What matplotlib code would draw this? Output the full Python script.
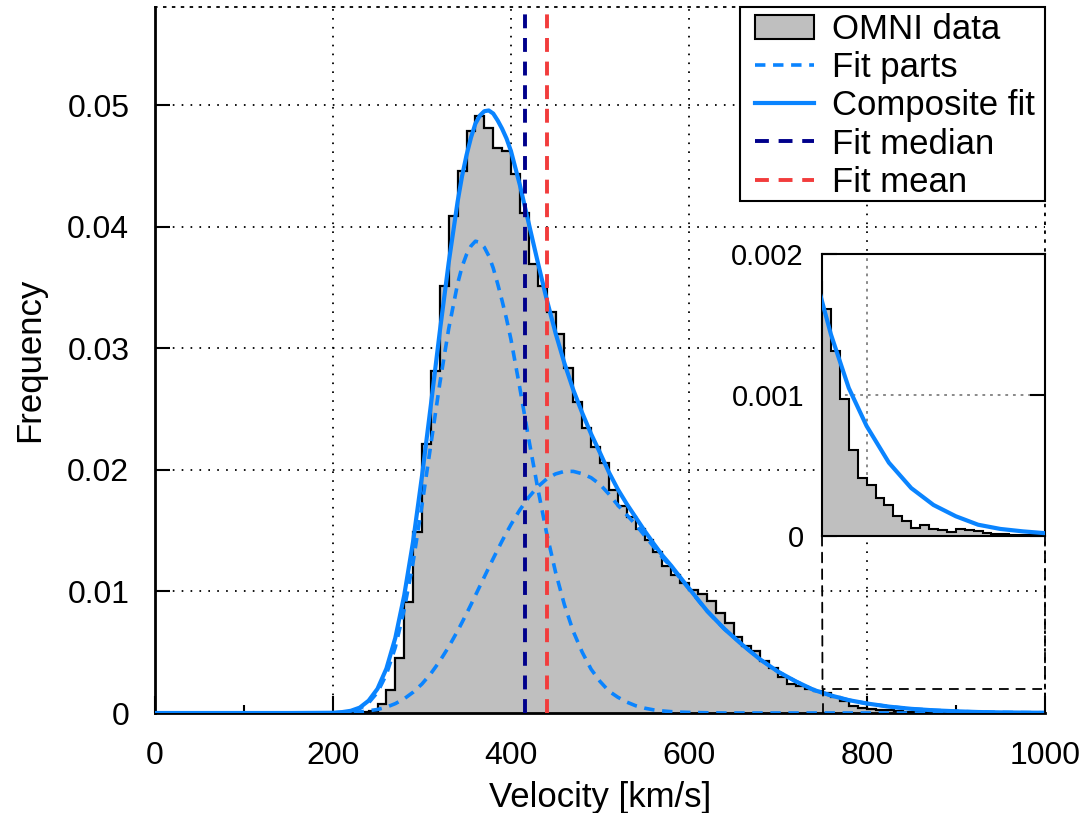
import numpy as np
import matplotlib
matplotlib.use('Agg')
import matplotlib.pyplot as plt
from matplotlib.patches import Patch, ConnectionPatch, Rectangle
from matplotlib.lines import Line2D
from matplotlib.transforms import IdentityTransform

plt.rcParams['font.family'] = ['Liberation Sans', 'DejaVu Sans']
plt.rcParams['lines.scale_dashes'] = False

# ---------------- data ----------------
bin_edges = np.arange(0, 1010, 10)
hist_vals = [0]*23 + [
    0.00005, 0.0002, 0.00074, 0.0019, 0.00455, 0.0091, 0.0149,          # 230-290
    0.0221, 0.0281, 0.0351, 0.0409, 0.0446, 0.0479, 0.0491, 0.0481,      # 300-370
    0.0465, 0.0462, 0.0443, 0.0411, 0.0369, 0.0351, 0.0330, 0.0312,      # 380-450
    0.0284, 0.0256, 0.0234, 0.0219, 0.0206, 0.0183, 0.0170, 0.0161,      # 460-530
    0.0151, 0.0142, 0.0132, 0.0121, 0.01135, 0.0107, 0.0101, 0.0098,     # 540-610
    0.0092, 0.00825, 0.00743, 0.00628, 0.00551, 0.00513, 0.0043, 0.00367,  # 620-690
    0.0030, 0.0024, 0.0022, 0.0020, 0.0018, 0.00161, 0.00131, 0.00097,   # 700-770
    0.00061, 0.00041, 0.00036, 0.00027, 0.00022, 0.00014, 0.000105, 0.00006,  # 780-850
    0.00008, 0.000048, 0.000043, 0.000031, 0.000048, 0.00004, 0.000036, 0.000019,  # 860-930
    0.000017, 0.000014, 0.000005, 0.00001, 0.00001, 0.000005]           # 940-990

fit_v = [0, 100, 150,
         200, 210, 220, 230, 240, 250, 260, 270, 280, 290,
         300, 310, 320, 330, 340, 345, 350, 355, 360, 365, 370, 375, 380, 385, 390, 395,
         400, 410, 420, 430, 440, 450, 460, 470, 480, 490,
         500, 510, 520, 530, 540, 550, 560, 570, 580, 590,
         600, 620, 640, 660, 680, 700, 720, 740, 760, 780,
         800, 825, 850, 875, 900, 925, 950, 975, 1000]
fit_part1 = [0, 0, 0,
             0.00001, 0.00005, 0.00014, 0.00036, 0.00083, 0.0017, 0.00317, 0.0054, 0.0085, 0.0124,
             0.0171, 0.0221, 0.0271, 0.0316, 0.0353, 0.0367, 0.0377, 0.0384, 0.0388, 0.0387,
             0.0383, 0.0376, 0.0366, 0.0353, 0.0339, 0.0324,
             0.0307, 0.0267, 0.0225, 0.0185, 0.0148, 0.0116, 0.0089, 0.0067, 0.0050, 0.0036,
             0.0026, 0.0018, 0.0013, 0.0009, 0.0006, 0.0004, 0.00026, 0.00017, 0.00011, 0.00007,
             0.00005, 0.00002, 0, 0, 0, 0, 0, 0, 0, 0,
             0, 0, 0, 0, 0, 0, 0, 0, 0]
fit_part2 = [0, 0, 0,
             0.00001, 0.00002, 0.00004, 0.00008, 0.00018, 0.00029, 0.00048, 0.00077, 0.00117, 0.00171,
             0.00239, 0.00325, 0.00427, 0.00544, 0.00675, 0.00745, 0.00817, 0.00891, 0.00967, 0.01043,
             0.01119, 0.01195, 0.0127, 0.01343, 0.01415, 0.01484,
             0.0155, 0.01671, 0.01775, 0.0186, 0.01924, 0.01966, 0.01987, 0.01987, 0.01968, 0.01935,
             0.0188, 0.0180, 0.0171, 0.0163, 0.0155, 0.0146, 0.0137, 0.0128, 0.0120, 0.0111,
             0.0102, 0.0084, 0.0069, 0.0056, 0.0044, 0.0034, 0.0026, 0.0019, 0.00143, 0.00105,
             0.00078, 0.00052, 0.00034, 0.00022, 0.00014, 0.00008, 0.00005, 0.000033, 0.00002]
fit_median = 415.5
fit_mean = 440.5

zoom_box = (750, 1000, 0.0, 0.002)

# ---------------- style ----------------
GRAY = '#bfbfbf'
BLUE = '#0a84ff'
NAVY = '#00008b'
RED = '#f23c3c'
FS_TICK = 23
FS_LAB = 25
FS_LEG = 25
FS_IN = 21
dotted = (0, (1.2, 5.2))

fig = plt.figure(figsize=(10.9, 8.13), dpi=100)
W, H = 1090, 813
ax = fig.add_axes([155 / W, (H - 713) / H, 890 / W, 706 / H])

ax.set_xlim(0, 1000)
ax.set_ylim(0, 0.05806)

ax.stairs(hist_vals, bin_edges, fill=True, facecolor=GRAY, edgecolor='none', zorder=2)
ax.stairs(hist_vals, bin_edges, color='black', lw=1.6, zorder=2.1)

p1 = np.array(fit_part1)
p2 = np.array(fit_part2)
comp = p1 + p2
part_dash = (0, (7.5, 5.5))
ax.plot(fit_v, p1, color=BLUE, lw=2.6, linestyle=part_dash, zorder=3)
ax.plot(fit_v, p2, color=BLUE, lw=2.6, linestyle=part_dash, zorder=3)
ax.plot(fit_v, comp, color=BLUE, lw=3.0, zorder=3.5, solid_joinstyle='round')

vdash = (0, (10, 7))
ax.axvline(fit_median, color=NAVY, lw=2.8, linestyle=vdash, zorder=4)
ax.axvline(fit_mean, color=RED, lw=2.8, linestyle=vdash, zorder=4)

# zoom rectangle
x0, x1, y0, y1 = zoom_box
ax.plot([x0, x0, x1, x1], [y0, y1, y1, y0], color='black', lw=1.3,
        linestyle=(0, (7, 5)), zorder=4, clip_on=False)

# ticks & grid
ax.set_xticks(np.arange(0, 1001, 200))
ax.set_xticks(np.arange(100, 1000, 200), minor=True)
ax.set_yticks(np.arange(0, 0.051, 0.01))
ax.set_yticklabels(['0', '0.01', '0.02', '0.03', '0.04', '0.05'])
ax.set_xticklabels(['0', '200', '400', '600', '800', '1000'])
ax.tick_params(axis='both', which='both', direction='in', labelsize=FS_TICK, width=1.5)
ax.tick_params(axis='x', which='major', length=12, pad=20)
ax.tick_params(axis='x', which='minor', length=6)
ax.tick_params(axis='y', which='major', length=11, pad=18.5)
ax.tick_params(top=False, right=False)
ax.grid(True, which='major', color='black', linestyle=dotted, lw=1.3, zorder=1)
ax.set_axisbelow(True)
for s in ['left', 'bottom']:
    ax.spines[s].set_linewidth(2)
for s in ['top', 'right']:
    ax.spines[s].set_linestyle(dotted)
    ax.spines[s].set_linewidth(1.3)

ax.set_xlabel('Velocity [km/s]', fontsize=FS_LAB, labelpad=7)
ax.set_ylabel('Frequency', fontsize=FS_LAB, labelpad=15)

# legend
handles = [Patch(facecolor=GRAY, edgecolor='black', lw=1.5),
           Line2D([], [], color=BLUE, lw=2.6, linestyle=part_dash),
           Line2D([], [], color=BLUE, lw=3.0),
           Line2D([], [], color=NAVY, lw=2.8, linestyle=vdash),
           Line2D([], [], color=RED, lw=2.8, linestyle=vdash)]
labels = ['OMNI data', 'Fit parts', 'Composite fit', 'Fit median', 'Fit mean']
leg = ax.legend(handles, labels, loc='upper right', fontsize=FS_LEG, frameon=False,
                bbox_to_anchor=(1 - 7 / 890, 1 - 2.5 / 706), borderaxespad=0,
                handlelength=1.71, handletextpad=0.51,
                labelspacing=0.15, borderpad=0.1)
leg.set_zorder(10)

# inset
axi = fig.add_axes([822 / W, (H - 536) / H, 223 / W, 282 / H])
axi.set_xlim(x0, x1)
axi.set_ylim(y0, y1)
axi.stairs(hist_vals, bin_edges, fill=True, facecolor=GRAY, edgecolor='none', zorder=2)
axi.stairs(hist_vals, bin_edges, color='black', lw=1.5, zorder=2.1)
axi.plot(fit_v, comp, color=BLUE, lw=3.0, zorder=3)
axi.set_xticks([800])
axi.set_xticklabels([])
axi.set_yticks([0, 0.001, 0.002])
axi.set_yticklabels(['0', '0.001', '0.002'])
axi.tick_params(axis='x', length=0)
axi.tick_params(axis='y', which='both', direction='in', labelsize=FS_IN, length=11,
                width=1.5, left=True, right=True, pad=13)
axi.grid(True, color='#808080', linestyle=(0, (2, 3.5)), lw=1.3, zorder=1)
axi.set_axisbelow(True)
for s in axi.spines.values():
    s.set_linewidth(1.5)

for xv in (x0, x1):
    cp = ConnectionPatch(xyA=(xv, y0), coordsA=axi.transData,
                         xyB=(xv, y1), coordsB=ax.transData,
                         color='black', lw=1.3, linestyle=(0, (7, 5)), zorder=4)
    fig.add_artist(cp)

# legend frame: drawn around the legend contents with a wider left margin
fig.canvas.draw()
renderer = fig.canvas.get_renderer()
lb = leg.get_window_extent(renderer)
axb = ax.get_window_extent(renderer)
pad_px = 0.1 * FS_LEG * 100 / 72
fx0 = lb.x0 + pad_px - 15
fx1 = axb.x1
fy1 = axb.y1
fy0 = lb.y0 + 1
frame = Rectangle((fx0, fy0), fx1 - fx0, fy1 - fy0, transform=IdentityTransform(),
                  facecolor='white', edgecolor='black', lw=1.5, zorder=9, clip_on=False)
ax.add_artist(frame)

fig.savefig('out.png', dpi=100)
